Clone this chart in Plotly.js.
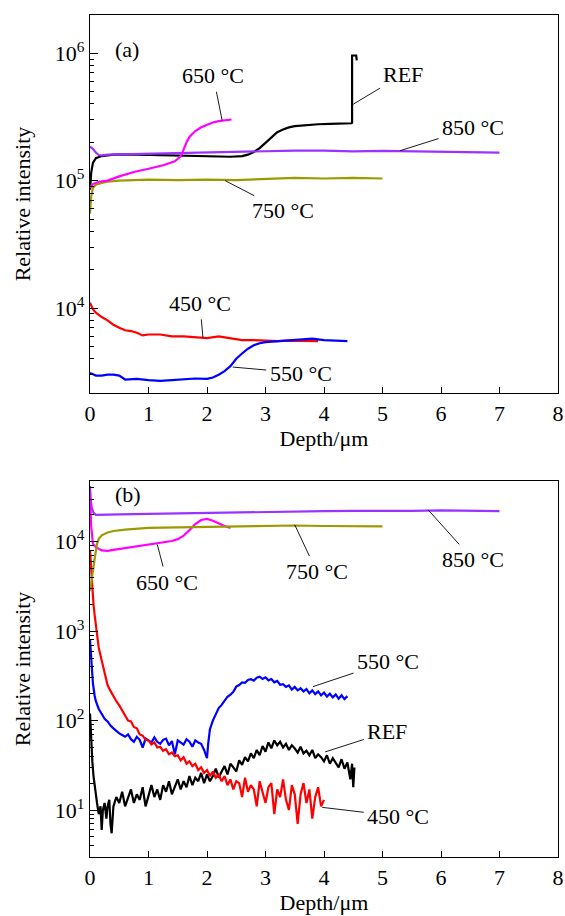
<!DOCTYPE html>
<html>
<head>
<meta charset="utf-8">
<script src="https://cdn.plot.ly/plotly-3.0.1.min.js"></script>
<style>html,body{margin:0;padding:0;background:#fff;}</style>
</head>
<body>
<div id="chart" style="width:565px;height:916px;"></div>
<script>
// ---------- Panel (a) ----------
const aRefX  = [0,0.02,0.05,0.1,0.2,0.4,0.6,0.8,1.0,1.2,1.4,1.6,1.8,2.0,2.2,2.4,2.6,2.7,2.8,2.9,3.0,3.1,3.2,3.3,3.4,3.5,3.7,3.9,4.1,4.3,4.47,4.48,4.48,4.55,4.56];
const aRefY  = [8.5e4,1.15e5,1.38e5,1.5e5,1.56e5,1.6e5,1.61e5,1.6e5,1.61e5,1.6e5,1.58e5,1.56e5,1.55e5,1.56e5,1.55e5,1.54e5,1.56e5,1.6e5,1.68e5,1.8e5,1.98e5,2.2e5,2.4e5,2.52e5,2.62e5,2.68e5,2.74e5,2.77e5,2.79e5,2.8e5,2.82e5,2.85e5,9.6e5,9.6e5,8.8e5];
const a850X  = [0,0.05,0.1,0.15,0.2,0.3,0.5,1,1.5,2,2.5,3,3.5,4,4.5,5,5.5,6,6.5,7];
const a850Y  = [1.85e5,1.78e5,1.66e5,1.59e5,1.58e5,1.6e5,1.61e5,1.63e5,1.65e5,1.67e5,1.69e5,1.71e5,1.72e5,1.72e5,1.7e5,1.71e5,1.7e5,1.69e5,1.68e5,1.66e5];
const a750X  = [0,0.02,0.05,0.1,0.2,0.3,0.5,1,1.5,2,2.5,3,3.5,4,4.5,5];
const a750Y  = [5.5e4,7.5e4,8.8e4,9.3e4,9.6e4,9.8e4,1.0e5,1.02e5,1.01e5,1.02e5,1.01e5,1.03e5,1.05e5,1.04e5,1.05e5,1.04e5];
const a650X  = [0,0.05,0.15,0.3,0.5,0.75,1.0,1.25,1.45,1.55,1.6,1.65,1.7,1.8,1.9,2.0,2.1,2.2,2.3,2.42];
const a650Y  = [8.8e4,9.4e4,9.8e4,1.0e5,1.08e5,1.17e5,1.24e5,1.32e5,1.42e5,1.55e5,1.75e5,2.0e5,2.2e5,2.45e5,2.62e5,2.75e5,2.86e5,2.93e5,2.98e5,3.02e5];
const a450X  = [0,0.05,0.1,0.2,0.3,0.4,0.5,0.6,0.7,0.8,0.9,1.0,1.2,1.4,1.6,1.8,2.0,2.2,2.4,2.6,2.8,3.0,3.2,3.4,3.6,3.8,3.9];
const a450Y  = [1.1e4,9.8e3,9.2e3,8.5e3,8.0e3,7.4e3,7.0e3,6.7e3,6.6e3,6.4e3,6.1e3,6.2e3,6.2e3,6.0e3,6.0e3,5.9e3,5.8e3,6.0e3,5.8e3,5.6e3,5.6e3,5.55e3,5.5e3,5.55e3,5.5e3,5.5e3,5.5e3];
const a550X  = [0,0.1,0.2,0.3,0.4,0.5,0.6,0.8,1.0,1.2,1.4,1.6,1.8,2.0,2.1,2.2,2.3,2.4,2.5,2.6,2.7,2.8,2.9,3.0,3.2,3.4,3.6,3.8,4.0,4.2,4.4];
const a550Y  = [3.1e3,2.95e3,2.95e3,3.0e3,3.0e3,2.95e3,2.75e3,2.78e3,2.72e3,2.68e3,2.72e3,2.75e3,2.8e3,2.78e3,2.85e3,3.0e3,3.2e3,3.5e3,4.0e3,4.4e3,4.8e3,5.1e3,5.3e3,5.4e3,5.5e3,5.6e3,5.7e3,5.75e3,5.6e3,5.55e3,5.5e3];

// ---------- Panel (b) ----------
const b850X = [0,0.01,0.03,0.06,0.1,0.2,0.5,1,1.5,2,2.5,3,3.5,4,4.5,5,5.5,6,6.5,7];
const b850Y = [4.2e4,3.0e4,2.4e4,2.1e4,2.0e4,2.0e4,2.02e4,2.05e4,2.08e4,2.1e4,2.12e4,2.15e4,2.17e4,2.2e4,2.22e4,2.2e4,2.22e4,2.25e4,2.23e4,2.2e4];
const b750X = [0,0.02,0.04,0.06,0.08,0.1,0.12,0.15,0.2,0.3,0.4,0.6,0.8,1.0,1.5,2,2.5,3,3.5,4,4.5,5];
const b750Y = [2.8e3,3.6e3,4.4e3,5.2e3,6.5e3,8.0e3,9.5e3,1.08e4,1.18e4,1.27e4,1.32e4,1.37e4,1.4e4,1.43e4,1.45e4,1.47e4,1.48e4,1.5e4,1.52e4,1.5e4,1.5e4,1.49e4];
const b650X = [0,0.02,0.05,0.1,0.2,0.3,0.4,0.6,0.8,1.0,1.2,1.4,1.5,1.6,1.7,1.8,1.9,2.0,2.1,2.2,2.3,2.4];
const b650Y = [3.5e4,1.5e4,9.5e3,8.7e3,8.0e3,7.9e3,8.1e3,8.5e3,8.8e3,9.2e3,9.7e3,1.02e4,1.07e4,1.17e4,1.35e4,1.58e4,1.75e4,1.8e4,1.72e4,1.6e4,1.5e4,1.43e4];
const b450X = [0,0.02,0.04,0.06,0.08,0.1,0.12,0.15,0.2,0.25,0.3,0.35,0.4,0.45,0.5,0.55,0.6,0.65,0.7,0.75,0.8,0.85,0.9,0.95,1.0,1.05,1.1,1.15,1.2,1.25,1.3,1.35,1.4,1.45,1.5,1.55,1.6,1.65,1.7,1.75,1.8,1.85,1.9,1.95,2.0,2.05,2.1,2.15,2.2,2.25,2.3,2.35,2.4,2.45,2.5,2.55,2.6,2.65,2.7,2.75,2.8,2.85,2.9,2.95,3.0,3.05,3.1,3.15,3.2,3.25,3.3,3.35,3.4,3.45,3.5,3.55,3.6,3.65,3.7,3.75,3.8,3.85,3.9,3.95,4.0];
const b450Y = [8000,4500,2800,2000,1500,1200,900,650,470,330,250,215,185,165,148,130,118,100,98,85,82,70,68,61,60,54,57,50,51,46,48,42,44,40,41,36,39,33,35,31,33,28,30,26,28,24,27,23,25,21,24,19,22,17,21,20,14,23,16,19,17,11,21,16,12,18,20,9,17,14,22,13,10,19,15,7,15,20,12,17,8,14,18,11,13];
const b550X = [0,0.02,0.05,0.08,0.1,0.15,0.2,0.25,0.3,0.35,0.4,0.45,0.5,0.55,0.6,0.65,0.7,0.75,0.8,0.85,0.9,0.95,1.0,1.05,1.1,1.15,1.2,1.25,1.3,1.35,1.4,1.45,1.5,1.55,1.6,1.65,1.7,1.75,1.8,1.85,1.9,1.95,2.0,2.02,2.05,2.1,2.15,2.2,2.25,2.3,2.35,2.4,2.45,2.5,2.55,2.6,2.65,2.7,2.75,2.8,2.85,2.9,2.95,3.0,3.05,3.1,3.15,3.2,3.25,3.3,3.35,3.4,3.45,3.5,3.55,3.6,3.65,3.7,3.75,3.8,3.85,3.9,3.95,4.0,4.05,4.1,4.15,4.2,4.25,4.3,4.35,4.4];
const b550Y = [800,450,260,190,165,135,120,105,98,88,82,76,72,69,66,70,62,58,66,61,50,63,60,57,65,58,55,61,63,53,59,42,60,57,54,62,58,51,60,57,55,47,38,55,80,100,120,138,150,165,185,195,210,240,250,268,265,285,290,280,302,310,292,305,282,292,268,278,252,255,238,248,222,238,218,230,212,225,202,218,198,212,192,206,186,200,182,196,176,192,174,188];
const bRefX = [0,0.02,0.04,0.06,0.08,0.1,0.12,0.15,0.18,0.2,0.22,0.25,0.28,0.3,0.33,0.35,0.37,0.4,0.45,0.5,0.55,0.6,0.65,0.7,0.75,0.8,0.85,0.9,0.95,1.0,1.05,1.1,1.15,1.2,1.25,1.3,1.35,1.4,1.45,1.5,1.55,1.6,1.65,1.7,1.75,1.8,1.85,1.9,1.95,2.0,2.05,2.1,2.15,2.2,2.25,2.3,2.35,2.4,2.45,2.5,2.55,2.6,2.65,2.7,2.75,2.8,2.85,2.9,2.95,3.0,3.05,3.1,3.15,3.2,3.25,3.3,3.35,3.4,3.45,3.5,3.55,3.6,3.65,3.7,3.75,3.8,3.85,3.9,3.95,4.0,4.05,4.1,4.15,4.2,4.25,4.3,4.35,4.4,4.45,4.48,4.5,4.52];
const bRefY = [120,60,35,24,18,14,12,9,11,6,10,12,8,11,13,7,5.5,11,14,12,16,11,14,17,12,15,13,18,11,15,19,14,17,13,19,16,21,15,18,22,17,21,18,24,19,23,21,26,20,25,21,24,29,23,27,31,25,33,30,27,36,32,39,35,43,38,47,41,52,45,57,49,60,53,58,50,55,47,53,49,44,51,43,46,41,47,38,42,39,35,41,33,38,34,30,37,29,34,22,33,18,30];

const depthTicks = [0,1,2,3,4,5,6,7,8];
const aTickVals = [1e4,1e5,1e6];
const aTickText = ['10<sup>4</sup>','10<sup>5</sup>','10<sup>6</sup>'];
const bTickVals = [1e1,1e2,1e3,1e4];
const bTickText = ['10<sup>1</sup>','10<sup>2</sup>','10<sup>3</sup>','10<sup>4</sup>'];

const C = {ref:'#000000', t450:'#ff0000', t550:'#0000ff', t650:'#ff00ff', t750:'#9c9a00', t850:'#9933ff'};
const LW = 2.2;

function tr(x, y, color, xa, ya) {
  return {x:x, y:y, type:'scatter', mode:'lines', line:{color:color, width:LW}, xaxis:xa, yaxis:ya, hoverinfo:'skip', showlegend:false};
}

const data = [
  tr(a750X,a750Y,C.t750,'x','y'),
  tr(aRefX,aRefY,C.ref,'x','y'),
  tr(a850X,a850Y,C.t850,'x','y'),
  tr(a650X,a650Y,C.t650,'x','y'),
  tr(a450X,a450Y,C.t450,'x','y'),
  tr(a550X,a550Y,C.t550,'x','y'),
  tr(bRefX,bRefY,C.ref,'x2','y2'),
  tr(b550X,b550Y,C.t550,'x2','y2'),
  tr(b450X,b450Y,C.t450,'x2','y2'),
  tr(b850X,b850Y,C.t850,'x2','y2'),
  tr(b650X,b650Y,C.t650,'x2','y2'),
  tr(b750X,b750Y,C.t750,'x2','y2')
];

function minorVals(lo, hi) {
  const v = [];
  for (let k = lo; k <= hi; k++) for (let d = 2; d <= 9; d++) v.push(d * Math.pow(10, k));
  return v;
}

const FONT = 'Liberation Serif';
const tickFont = {family: FONT, size: 22, color: '#000'};

function xAxis(anchor) {
  return {
    anchor: anchor, range: [0, 8], tickmode: 'array', tickvals: depthTicks, ticks: 'inside', ticklen: 6, tickwidth: 1, tickcolor: '#000',
    showline: true, linecolor: '#000', linewidth: 1.2, mirror: true, showgrid: false, zeroline: false,
    tickfont: tickFont, title: {text: 'Depth/μm', font: tickFont, standoff: 6}
  };
}
function yAxis(anchor, domain, range, tv, tt, mlo, mhi) {
  return {
    anchor: anchor, domain: domain, type: 'log', range: range, tickmode: 'array', tickvals: tv, ticktext: tt,
    ticks: 'inside', ticklen: 8, tickwidth: 1, tickcolor: '#000',
    minor: {tickmode: 'array', tickvals: minorVals(mlo, mhi), ticks: 'inside', ticklen: 4, tickwidth: 1, tickcolor: '#000', showgrid: false},
    showline: true, linecolor: '#000', linewidth: 1.2, mirror: true, showgrid: false, zeroline: false,
    tickfont: tickFont, title: {text: 'Relative intensity', font: tickFont, standoff: 18}
  };
}

function lab(text, xa, ya, x, ly, ax, ay) {
  return {text: text, xref: xa, yref: ya, x: x, y: ly, ax: ax, ay: ay, showarrow: true, arrowhead: 0, arrowwidth: 0.9, arrowcolor: '#000',
    font: {family: FONT, size: 22, color: '#000'}, standoff: 0, startstandoff: 2};
}

const annotations = [
  lab('650 °C','x','y',2.26,5.47,-9,-45),
  lab('REF','x','y',4.5,5.6,50,-30),
  lab('850 °C','x','y',5.3,5.235,73,-23),
  lab('750 °C','x','y',2.31,5.0,58,30),
  lab('450 °C','x','y',1.93,3.77,-3,-34),
  lab('550 °C','x','y',2.44,3.537,68,6),
  lab('650 °C','x2','y2',1.15,3.97,10,38),
  lab('750 °C','x2','y2',3.5,4.19,22,47),
  lab('850 °C','x2','y2',5.78,4.357,45,50),
  lab('550 °C','x2','y2',3.81,2.38,75,-25),
  lab('REF','x2','y2',4.02,1.65,62,-20),
  lab('450 °C','x2','y2',3.97,1.03,76,9),
  {text:'(a)', xref:'paper', yref:'paper', x:0.049, y:0.976, showarrow:false, font:{family:FONT, size:22, color:'#000'}},
  {text:'(b)', xref:'paper', yref:'paper', x:0.049, y:0.430, showarrow:false, font:{family:FONT, size:22, color:'#000'}}
];

const layout = {
  width: 565, height: 916,
  margin: {l: 90, r: 7, t: 15, b: 59},
  paper_bgcolor: '#fff', plot_bgcolor: '#fff',
  showlegend: false,
  font: {family: FONT, color: '#000'},
  xaxis: xAxis('y'),
  yaxis: yAxis('x', [0.551, 1], [3.333, 6.3], aTickVals, aTickText, 3, 6),
  xaxis2: xAxis('y2'),
  yaxis2: yAxis('x2', [0, 0.4466], [0.475, 4.68], bTickVals, bTickText, 0, 4),
  annotations: annotations
};

Plotly.newPlot('chart', data, layout, {staticPlot: true, displayModeBar: false});
</script>
</body>
</html>
